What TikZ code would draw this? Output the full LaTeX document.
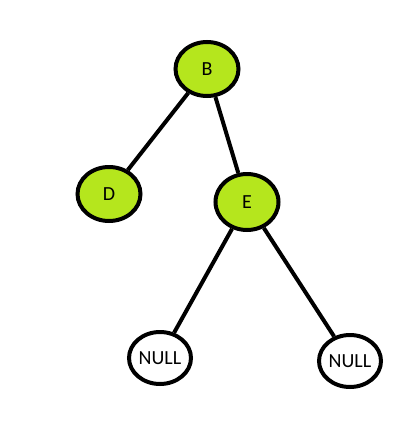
\documentclass[tikz,border=0pt]{standalone}
\usepackage{fontspec}
\setmainfont{Carlito}
\usetikzlibrary{shapes.geometric}
\definecolor{treeLime}{RGB}{181,230,29}
\tikzset{
  treenode/.style={ellipse, draw=black, line width=4pt, fill=treeLime,
    minimum width=63pt, minimum height=54pt, inner sep=0pt,
    font=\fontsize{20}{22}\selectfont, text=black},
  nullnode/.style={treenode, fill=white, minimum width=62pt,
    minimum height=52pt},
  treeedge/.style={line width=4pt, draw=black}
}
\begin{document}
\begin{tikzpicture}[x=1pt,y=-1pt]
\path[use as bounding box] (0,0) rectangle (403,423);

\node[treenode] (b) at (207,69) {B};
\node[treenode] (d) at (109,194) {D};
\node[treenode, minimum height=56pt] (e) at (247,202) {E};
\node[nullnode] (nl) at (160,358) {NULL};
\node[nullnode] (nr) at (350,361) {NULL};

\draw[treeedge] (b) -- (d);
\draw[treeedge] (b) -- (e);
\draw[treeedge] (e) -- (nl);
\draw[treeedge] (e) -- (nr);
\end{tikzpicture}
\end{document}
